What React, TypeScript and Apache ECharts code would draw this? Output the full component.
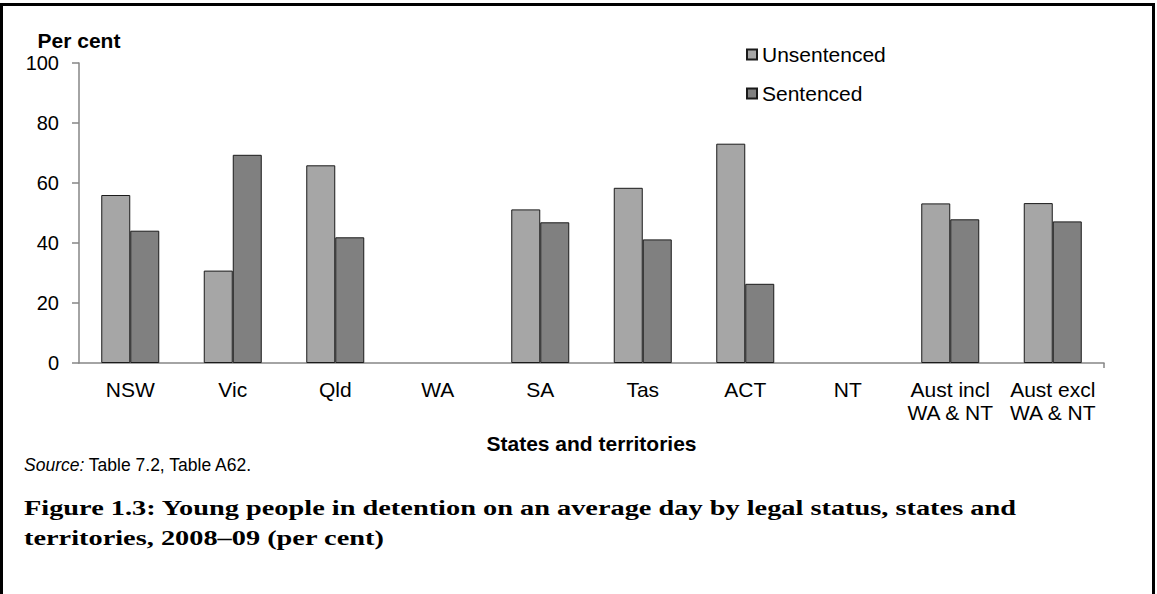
import React, { useEffect, useRef } from "react";
import * as echarts from "echarts";

const categories = [
  "NSW",
  "Vic",
  "Qld",
  "WA",
  "SA",
  "Tas",
  "ACT",
  "NT",
  "Aust incl\nWA & NT",
  "Aust excl\nWA & NT",
];
const unsentenced = [56.0, 30.8, 65.9, null, 51.2, 58.4, 73.1, null, 53.2, 53.3];
const sentenced = [44.1, 69.4, 41.9, null, 46.9, 41.2, 26.4, null, 47.9, 47.2];
const seriesNames = ["Unsentenced", "Sentenced"];
const yTicks = { min: 0, max: 100, interval: 20 };

const SANS = "'Liberation Sans', Arial, sans-serif";
const SERIF = "'Liberation Serif', 'Times New Roman', serif";
const captionLine1 =
  "Figure 1.3: Young people in detention on an average day by legal status, states and";
const captionLine2 = "territories, 2008–09 (per cent)";

function measure(text: string, font: string): number {
  const c = document.createElement("canvas");
  const ctx = c.getContext("2d");
  if (!ctx) return 0;
  ctx.font = font;
  return ctx.measureText(text).width;
}

export default function App() {
  const ref = useRef<HTMLDivElement>(null);
  useEffect(() => {
    if (!ref.current) return;
    const chart = echarts.init(ref.current, null, { renderer: "svg" });
    const capW = measure(captionLine1, "bold 21px 'Liberation Serif', serif");
    const capScale = capW > 0 ? Math.min(1.35, Math.max(0.9, 1019 / capW)) : 1.1;
    chart.setOption({
      animation: false,
      backgroundColor: "#fff",
      textStyle: { fontFamily: SANS },
      grid: { left: 79, right: 53, top: 63, bottom: 231 },
      legend: {
        orient: "vertical",
        left: 741,
        top: 39,
        itemWidth: 10,
        itemHeight: 10,
        itemGap: 18,
        icon: "rect",
        data: seriesNames,
        textStyle: { fontSize: 21, lineHeight: 20, color: "#000", fontFamily: SANS },
      },
      xAxis: [
        {
          type: "category",
          data: categories,
          name: "States and territories",
          nameLocation: "middle",
          nameGap: 70,
          nameTextStyle: { fontSize: 21, fontWeight: "bold", color: "#000", fontFamily: SANS },
          axisLine: { lineStyle: { color: "#868686", width: 1.5 } },
          axisTick: { alignWithLabel: true, length: 5, lineStyle: { color: "#868686", width: 1.5 } },
          axisLabel: {
            fontSize: 21,
            lineHeight: 23,
            color: "#000",
            margin: 15,
            interval: 0,
            fontFamily: SANS,
          },
        },
        {
          type: "value",
          position: "bottom",
          min: 0,
          max: 1,
          axisLine: { show: false },
          axisLabel: { show: false },
          splitLine: { show: false },
          axisTick: { show: true, customValues: [1], length: 5, lineStyle: { color: "#868686", width: 1.5 } },
        },
      ],
      yAxis: {
        type: "value",
        min: yTicks.min,
        max: yTicks.max,
        interval: yTicks.interval,
        name: "Per cent",
        nameLocation: "end",
        nameGap: 12,
        nameTextStyle: { fontSize: 21, fontWeight: "bold", color: "#000", align: "center", fontFamily: SANS },
        axisLine: { show: true, lineStyle: { color: "#868686", width: 1.5 } },
        axisTick: { show: true, length: 7, lineStyle: { color: "#868686", width: 1.5 } },
        splitLine: { show: false },
        axisLabel: { fontSize: 20, color: "#000", margin: 20, fontFamily: SANS },
      },
      series: [
        {
          name: seriesNames[0],
          type: "bar",
          xAxisIndex: 0,
          data: unsentenced,
          barWidth: 29,
          barGap: "0%",
          itemStyle: { color: "#A6A6A6", borderColor: "#1a1a1a", borderWidth: 1 },
        },
        {
          name: seriesNames[1],
          type: "bar",
          xAxisIndex: 0,
          data: sentenced,
          barWidth: 29,
          barGap: "0%",
          itemStyle: { color: "#808080", borderColor: "#1a1a1a", borderWidth: 1 },
        },
      ],
      graphic: [
        {
          type: "rect",
          shape: { x: 1.5, y: 4.5, width: 1152, height: 700 },
          style: { fill: "none", stroke: "#000", lineWidth: 3 },
          silent: true,
        },
        {
          type: "text",
          left: 24,
          top: 456,
          style: {
            text: "{i|Source:} Table 7.2, Table A62.",
            fontSize: 17.5,
            fontFamily: SANS,
            fill: "#000",
            rich: { i: { fontStyle: "italic", fontSize: 17.5, fontFamily: SANS } },
          },
        },
        {
          type: "text",
          x: 24,
          y: 493,
          scaleX: capScale,
          style: {
            text: captionLine1 + "\n" + captionLine2,
            fontSize: 21,
            lineHeight: 30,
            fontWeight: "bold",
            fontFamily: SERIF,
            fill: "#000",
            align: "left",
            verticalAlign: "top",
          },
        },
      ],
    });
    return () => chart.dispose();
  }, []);
  return (
    <div
      ref={ref}
      style={{ position: "fixed", left: 0, top: 0, width: 1157, height: 594, background: "#fff" }}
    />
  );
}
